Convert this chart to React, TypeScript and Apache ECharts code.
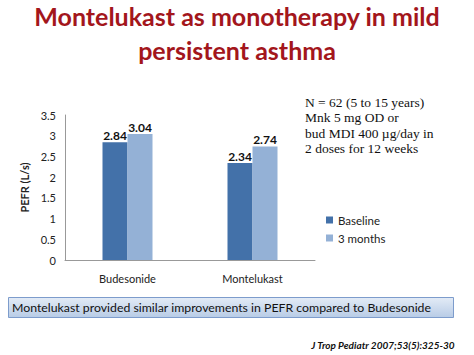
import React, { useEffect, useRef } from "react";
import * as echarts from "echarts";

const categories = ["Budesonide", "Montelukast"];
const baseline = [2.84, 2.34];
const threeMonths = [3.04, 2.74];
const seriesNames = ["Baseline", "3 months"];
const titleLines = ["Montelukast as monotherapy in mild", "persistent asthma"];
const noteLines = [
  "N = 62 (5 to 15 years)",
  "Mnk 5 mg OD or",
  "bud MDI 400 \u00b5g/day in",
  "2 doses for 12 weeks",
];

export default function App() {
  const ref = useRef<HTMLDivElement>(null);
  useEffect(() => {
    const chart = echarts.init(ref.current!, null, { renderer: "svg" });
    const labelStyle = {
      show: true,
      position: "top" as const,
      distance: 1,
      fontSize: 12,
      fontWeight: "bold" as const,
      color: "#111",
      fontFamily: "Lato",
      formatter: (p: any) => p.value.toFixed(2),
    };
    chart.setOption({
      animation: false,
      backgroundColor: "#ffffff",
      legend: {
        orient: "vertical",
        left: 321,
        top: 209,
        itemWidth: 7,
        itemHeight: 7,
        itemGap: 6,
        icon: "rect",
        textStyle: { fontFamily: "Lato", fontSize: 11.5, color: "#222" },
        data: seriesNames,
      },
      grid: { left: 65, right: 159, top: 115, bottom: 95 },
      xAxis: {
        type: "category",
        data: categories,
        axisLine: { lineStyle: { color: "#999" } },
        axisTick: { show: false },
        axisLabel: { fontFamily: "Lato", fontSize: 11, color: "#222", margin: 13 },
      },
      yAxis: {
        type: "value",
        min: 0,
        max: 3.5,
        interval: 0.5,
        name: "PEFR (L/s)",
        nameLocation: "middle",
        nameGap: 27,
        nameTextStyle: { fontFamily: "Lato", fontSize: 11, fontWeight: "bold", color: "#222" },
        axisLine: { show: true, lineStyle: { color: "#999" } },
        axisTick: { show: false },
        splitLine: { show: false },
        axisLabel: { fontFamily: "Lato", fontSize: 11, color: "#222", margin: 9 },
      },
      series: [
        {
          name: seriesNames[0],
          type: "bar",
          data: baseline,
          barWidth: 25,
          barGap: "0%",
          itemStyle: { color: "#4371a9" },
          label: labelStyle,
        },
        {
          name: seriesNames[1],
          type: "bar",
          data: threeMonths,
          barWidth: 25,
          itemStyle: { color: "#94b1d6" },
          label: labelStyle,
        },
      ],
      graphic: [
        ...titleLines.map((t, i) => ({
          type: "text",
          x: 237,
          y: 16 + i * 34,
          style: {
            text: t,
            fontFamily: "Lato",
            fontSize: 25,
            fontWeight: "bold",
            fill: "#a3161c",
            align: "center",
            verticalAlign: "middle",
          },
        })),
        ...noteLines.map((t, i) => ({
          type: "text",
          left: 305,
          top: 95 + i * 15.5,
          style: {
            text: t,
            fontFamily: "Liberation Serif",
            fontSize: 13.5,
            fill: "#111",
          },
        })),
        {
          type: "rect",
          shape: { x: 8.5, y: 297.5, width: 445, height: 20 },
          style: {
            fill: new echarts.graphic.LinearGradient(0, 0, 0, 1, [
              { offset: 0, color: "#e3ebf6" },
              { offset: 1, color: "#b8cce6" },
            ]),
            stroke: "#7d9ccc",
            lineWidth: 1,
          },
        },
        {
          type: "text",
          x: 12,
          y: 307.5,
          style: {
            text: "Montelukast provided similar improvements in PEFR compared to Budesonide",
            fontFamily: "Lato",
            fontSize: 12.3,
            fill: "#111",
            verticalAlign: "middle",
          },
        },
        {
          type: "text",
          right: 19,
          top: 340,
          style: {
            text: "J Trop Pediatr 2007;53(5):325-30",
            fontFamily: "Lato",
            fontSize: 10,
            fontWeight: "bold",
            fontStyle: "italic",
            fill: "#111",
          },
        },
      ],
    });
    return () => chart.dispose();
  }, []);
  return (
    <div
      ref={ref}
      style={{ position: "fixed", left: 0, top: 0, width: 474, height: 355 }}
    />
  );
}
